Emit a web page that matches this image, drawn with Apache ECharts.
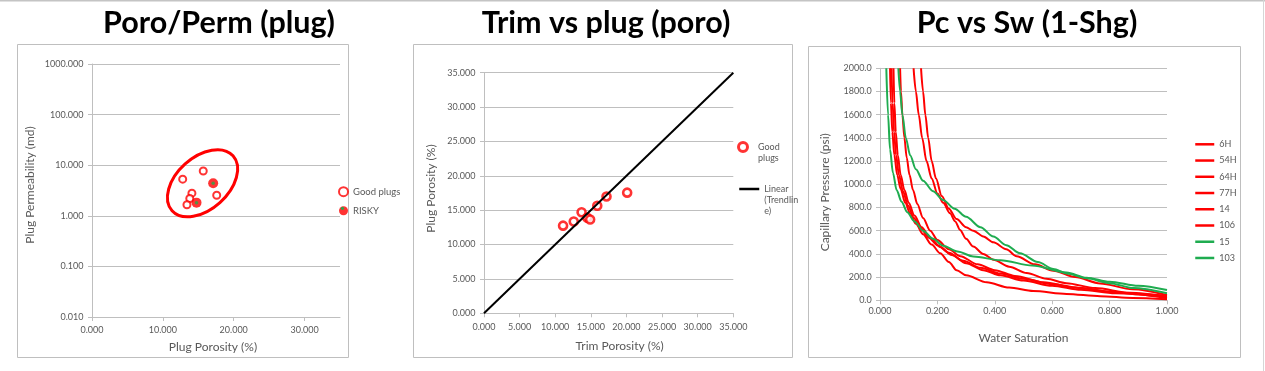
<!DOCTYPE html>
<html><head><meta charset="utf-8">
<script src="https://cdn.jsdelivr.net/npm/echarts@6/dist/echarts.min.js"></script>
<style>html,body{margin:0;padding:0;background:#fff}#c{width:1265px;height:371px}</style>
</head><body><div id="c"></div><script>
// ---------- DATA ----------
// Panel 1: Poro/Perm (plug)
const goodPorosity1 = [12.8, 15.7, 14.1, 17.6, 13.8, 13.4];
const goodPerm1     = [5.3, 7.7, 2.8, 2.55, 2.2, 1.65];
const riskyPorosity1 = [17.1, 14.75];
const riskyPerm1     = [4.4, 1.82];
const ellipseCenter1 = [15.6, 4.4];          // annotation centre, in data units
const permTicks1 = [0.01, 0.1, 1, 10, 100, 1000];
const poroTicks1 = [0, 10, 20, 30];

// Panel 2: Trim vs plug (poro)
const trimPoro2 = [11.1, 12.6, 13.7, 14.5, 14.9, 15.9, 17.2, 20.1];
const plugPoro2 = [12.75, 13.35, 14.7, 13.9, 13.65, 15.65, 17.0, 17.55];
const trendX2 = [0, 35];
const trendY2 = [0, 35];

// Panel 3: Pc vs Sw (1-Shg)  -> [Sw, Pc]
const curveNames3 = ['6H', '54H', '64H', '77H', '14', '106', '15', '103'];
const curveColors3 = ['#ff0000', '#ff0000', '#ff0000', '#ff0000', '#ff0000', '#ff0000', '#1fac50', '#1fac50'];
const c6H  = [[0.143,2000],[0.15,1800],[0.158,1600],[0.168,1400],[0.18,1200],[0.195,1050],[0.215,900],[0.24,790],[0.267,700],[0.3,630],[0.325,600],[0.36,550],[0.395,500],[0.44,440],[0.476,380],[0.54,310],[0.604,255],[0.68,200],[0.767,145],[0.88,95],[1.0,45]];
const c54H = [[0.117,2000],[0.125,1800],[0.135,1600],[0.147,1400],[0.162,1200],[0.18,1050],[0.2,920],[0.22,840],[0.244,750],[0.262,680],[0.279,606],[0.3,530],[0.325,463],[0.36,400],[0.395,350],[0.45,290],[0.511,235],[0.58,185],[0.65,148],[0.75,105],[0.87,65],[1.0,32]];
const c64H = [[0.035,2000],[0.038,1700],[0.043,1450],[0.05,1250],[0.06,1080],[0.072,960],[0.088,840],[0.105,750],[0.125,660],[0.15,570],[0.18,480],[0.21,405],[0.24,330],[0.267,260],[0.3,215],[0.372,155],[0.45,110],[0.534,80],[0.65,55],[0.767,35],[0.88,20],[1.0,9]];
const c77H = [[0.047,2000],[0.05,1700],[0.055,1450],[0.062,1250],[0.072,1080],[0.085,950],[0.1,840],[0.12,730],[0.145,630],[0.175,540],[0.21,460],[0.25,390],[0.3,320],[0.36,260],[0.42,215],[0.5,170],[0.6,125],[0.7,90],[0.82,60],[1.0,25]];
const c14  = [[0.07,2000],[0.073,1800],[0.078,1600],[0.085,1400],[0.093,1230],[0.103,1080],[0.115,950],[0.13,830],[0.15,710],[0.175,600],[0.2,520],[0.24,440],[0.28,380],[0.34,310],[0.4,260],[0.47,210],[0.57,155],[0.68,110],[0.8,75],[0.9,52],[1.0,40]];
const c106 = [[0.04,2000],[0.044,1700],[0.049,1450],[0.056,1250],[0.066,1080],[0.08,940],[0.097,820],[0.118,710],[0.142,620],[0.17,540],[0.2,475],[0.24,410],[0.29,340],[0.35,280],[0.42,230],[0.5,185],[0.6,140],[0.7,105],[0.82,70],[1.0,18]];
const c15  = [[0.022,2000],[0.028,1600],[0.035,1300],[0.045,1100],[0.058,950],[0.075,850],[0.095,760],[0.12,680],[0.15,600],[0.185,530],[0.22,470],[0.27,420],[0.325,378],[0.42,345],[0.53,300],[0.65,240],[0.72,195],[0.8,160],[0.9,125],[1.0,88]];
const c103 = [[0.064,2000],[0.07,1800],[0.078,1600],[0.09,1400],[0.105,1250],[0.125,1130],[0.15,1030],[0.185,940],[0.22,865],[0.26,790],[0.3,720],[0.35,630],[0.395,550],[0.44,475],[0.488,405],[0.55,330],[0.604,270],[0.65,232],[0.72,190],[0.8,148],[0.883,105],[1.0,60]];
const curves3 = [c6H, c54H, c64H, c77H, c14, c106, c15, c103];

// ---------- STYLE ----------
const FONT = 'Lato';
const LBL = '#595959';
const GRID = '#bfbfbf';
const RED = '#ff0000';

const zip = (a, b) => a.map((v, i) => [v, b[i]]);

const nameStyle = (pad) => ({ color: LBL, fontSize: 12, fontFamily: FONT, padding: pad || 0 });

function axisBase(gi, extra) {
  return Object.assign({
    gridIndex: gi,
    type: 'value',
    axisLine: { show: true, onZero: false, lineStyle: { color: GRID, width: 1 } },
    axisTick: { show: true, length: 4, lineStyle: { color: GRID } },
    splitLine: { show: false },
    nameLocation: 'middle',
    nameTextStyle: nameStyle(),
  }, extra);
}
const lbl = (fmt, margin, extra) => Object.assign({ color: LBL, fontSize: 9, fontFamily: FONT, margin: margin, formatter: fmt }, extra || {});

const chart = echarts.init(document.getElementById('c'), null, { renderer: 'canvas' });

const lineSeries = curves3.map((d, i) => ({
  type: 'line', name: curveNames3[i], xAxisIndex: 2, yAxisIndex: 2,
  data: d, symbol: 'none', smooth: 0.3, smoothMonotone: 'x',
  lineStyle: { color: curveColors3[i], width: 2 }, itemStyle: { color: curveColors3[i] },
  z: i >= 6 ? 3 : 2
}));

const baseGraphics = [
  { type: 'rect', id: 'topline', shape: { x: 0, y: 0, width: 1265, height: 1.5 }, style: { fill: '#c4c4c4' }, silent: true },
  { type: 'rect', id: 'rightline', shape: { x: 1263, y: 0, width: 1, height: 371 }, style: { fill: '#d6d6d6' }, silent: true },
  { type: 'rect', id: 'box1', shape: { x: 17.5, y: 44.5, width: 331, height: 313 }, style: { fill: 'none', stroke: GRID, lineWidth: 1 }, silent: true },
  { type: 'rect', id: 'box2', shape: { x: 413.5, y: 44.5, width: 379, height: 313 }, style: { fill: 'none', stroke: GRID, lineWidth: 1 }, silent: true },
  { type: 'rect', id: 'box3', shape: { x: 808.5, y: 46.5, width: 432, height: 311 }, style: { fill: 'none', stroke: GRID, lineWidth: 1 }, silent: true },
];

const titleStyle = { fontFamily: FONT, fontSize: 30.5, fontWeight: 'bold', color: '#000' };

const option = {
  animation: false,
  backgroundColor: '#fff',
  title: [
    { text: 'Poro/Perm (plug)', left: 219, top: 8, textAlign: 'center', textStyle: titleStyle, padding: 0 },
    { text: 'Trim vs plug (poro)', left: 606, top: 8, textAlign: 'center', textStyle: titleStyle, padding: 0 },
    { text: 'Pc vs Sw (1-Shg)', left: 1027, top: 8, textAlign: 'center', textStyle: titleStyle, padding: 0 },
  ],
  grid: [
    { left: 92, top: 64, width: 248, height: 253 },
    { left: 484, top: 72.7, width: 249.3, height: 240.6 },
    { left: 880, top: 68.3, width: 287, height: 232 },
  ],
  xAxis: [
    axisBase(0, { min: 0, max: 35, interval: 10,
      axisLabel: lbl(v => v.toFixed(3), 8.5, { customValues: poroTicks1 }),
      axisTick: { show: true, length: 4, lineStyle: { color: GRID }, customValues: poroTicks1 },
      name: 'Plug Porosity (%)', nameGap: 24, nameTextStyle: nameStyle([0, 6, 0, 0]) }),
    axisBase(1, { min: 0, max: 35, interval: 5,
      axisLabel: lbl(v => v.toFixed(3), 9),
      name: 'Trim Porosity (%)', nameGap: 26.5, nameTextStyle: nameStyle([0, 0, 0, 22]) }),
    axisBase(2, { min: 0, max: 1, interval: 0.2,
      axisLabel: lbl(v => v.toFixed(3), 6.5),
      name: 'Water Saturation', nameGap: 32 }),
  ],
  yAxis: [
    axisBase(0, { type: 'log', logBase: 10, min: permTicks1[0], max: permTicks1[permTicks1.length - 1],
      axisLabel: lbl(v => Number(v).toFixed(3), 8.5),
      splitLine: { show: true, lineStyle: { color: GRID, width: 1 } },
      name: 'Plug Permeability (md)', nameGap: 55.5, nameTextStyle: nameStyle([0, 0, 0, 11]) }),
    axisBase(1, { min: 0, max: 35, interval: 5,
      axisLabel: lbl(v => v.toFixed(3), 8.5),
      splitLine: { show: true, lineStyle: { color: GRID, width: 1 } },
      name: 'Plug Porosity (%)', nameGap: 47, nameTextStyle: nameStyle([0, 0, 0, 9]) }),
    axisBase(2, { min: 0, max: 2000, interval: 200,
      axisLabel: lbl(v => v.toFixed(1), 8.3),
      splitLine: { show: true, lineStyle: { color: GRID, width: 1 } },
      name: 'Capillary Pressure (psi)', nameGap: 48.5, nameTextStyle: nameStyle([0, 16, 0, 0]) }),
  ],
  legend: [
    { orient: 'vertical', left: 338, top: 186.2, padding: 0, itemWidth: 9, itemHeight: 9, itemGap: 8.6,
      data: ['Good plugs', 'RISKY'], selectedMode: false,
      textStyle: { color: LBL, fontSize: 9.5, fontFamily: FONT, lineHeight: 9 } },
    { orient: 'vertical', left: 737, top: 130.5, padding: 0, itemWidth: 20, itemHeight: 9,
      data: [{ name: 'Good plugs', itemStyle: { borderWidth: 3 } }], selectedMode: false, formatter: '\nGood\nplugs',
      textStyle: { color: LBL, fontSize: 9, fontFamily: FONT, lineHeight: 11 } },
    { orient: 'vertical', left: 738, top: 161.5, padding: 0, itemWidth: 20, itemHeight: 9,
      data: ['Linear (Trendline)'], selectedMode: false, formatter: '\n\nLinear\n(Trendlin\ne)',
      itemStyle: { opacity: 0 }, lineStyle: { width: 2.5 },
      textStyle: { color: LBL, fontSize: 9, fontFamily: FONT, lineHeight: 11 } },
    { orient: 'vertical', left: 1194, top: 139.3, padding: 0, itemWidth: 19, itemHeight: 10, itemGap: 6.24,
      data: curveNames3, selectedMode: false,
      itemStyle: { opacity: 0 }, lineStyle: { width: 2.5 },
      textStyle: { color: LBL, fontSize: 9, fontFamily: FONT, lineHeight: 10 } },
  ],
  series: [
    { type: 'scatter', name: 'Good plugs', xAxisIndex: 0, yAxisIndex: 0, data: zip(goodPorosity1, goodPerm1),
      symbol: 'circle', symbolSize: 7, itemStyle: { color: '#fff', borderColor: RED, borderWidth: 2 }, z: 4 },
    { type: 'scatter', name: 'RISKY', xAxisIndex: 0, yAxisIndex: 0, data: zip(riskyPorosity1, riskyPerm1),
      symbol: 'circle', symbolSize: 10, itemStyle: { color: RED }, z: 5 },
    { type: 'scatter', name: 'RISKY core', xAxisIndex: 0, yAxisIndex: 0, data: zip(riskyPorosity1, riskyPerm1),
      symbol: 'circle', symbolSize: 3.5, itemStyle: { color: '#2aa64a' }, z: 6, silent: true },
    { type: 'line', name: 'Linear (Trendline)', xAxisIndex: 1, yAxisIndex: 1, data: zip(trendX2, trendY2),
      symbol: 'none', lineStyle: { color: '#000', width: 2 }, itemStyle: { color: '#000' }, z: 5 },
    { type: 'scatter', name: 'Good plugs', xAxisIndex: 1, yAxisIndex: 1, data: zip(trimPoro2, plugPoro2),
      symbol: 'circle', symbolSize: 8, itemStyle: { color: '#fff', borderColor: RED, borderWidth: 2.6 }, z: 4 },
  ].concat(lineSeries),
  graphic: baseGraphics,
};
chart.setOption(option);

// Ellipse annotation around the cluster, anchored to data coordinates
const ec = chart.convertToPixel({ xAxisIndex: 0, yAxisIndex: 0 }, ellipseCenter1);
chart.setOption({
  graphic: baseGraphics.concat([
    { type: 'ellipse', id: 'ring', x: ec[0], y: ec[1], rotation: 42 * Math.PI / 180,
      shape: { cx: 0, cy: 0, rx: 41, ry: 26 }, style: { fill: 'none', stroke: RED, lineWidth: 3 }, z: 3, silent: true },
    { type: 'circle', id: 'riskyLegendCore', shape: { cx: 342.5, cy: 208.3, r: 1.6 }, style: { fill: '#2aa64a' }, z: 10, silent: true },
  ])
});
</script></body></html>
